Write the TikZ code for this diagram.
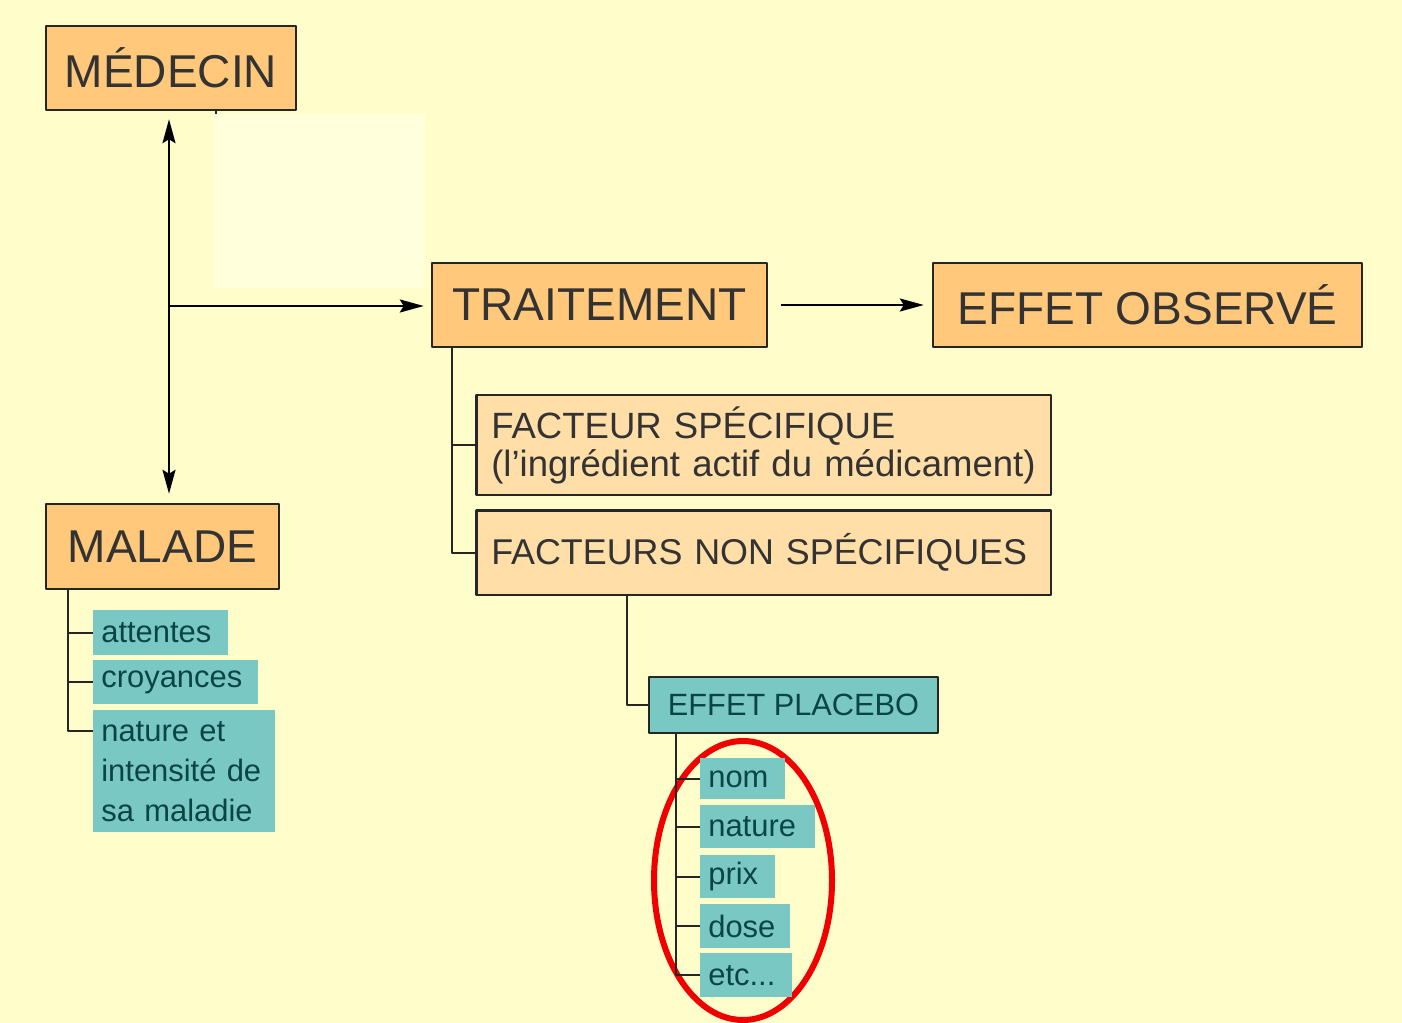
\documentclass[tikz,border=0pt]{standalone}
\usepackage{fontspec}
\setmainfont{Liberation Sans}
\usetikzlibrary{arrows.meta}
\definecolor{fondjaune}{rgb}{1,0.992,0.792}
\definecolor{fondclair}{rgb}{1,1,0.863}
\definecolor{orangevif}{rgb}{1,0.784,0.478}
\definecolor{orangepale}{rgb}{1,0.871,0.659}
\definecolor{turquoise}{rgb}{0.478,0.784,0.769}
\definecolor{grisfonce}{rgb}{0.2,0.2,0.2}
\definecolor{vertfonce}{rgb}{0.04,0.27,0.27}
\definecolor{rougevif}{rgb}{0.94,0,0}

\begin{document}
\begin{tikzpicture}[x=0.02cm,y=-0.02cm,line join=round,
	>={Stealth[length=0.48cm,width=0.26cm,inset=0.08cm]},
	boite/.style={draw=black!85,line width=0.05cm,fill=orangevif,text=grisfonce,inner sep=0pt,
		font=\fontsize{26.2}{30}\selectfont,minimum height=1.68cm},
	boitepale/.style={draw=black!85,line width=0.05cm,fill=orangepale,text=grisfonce,inner xsep=0.3cm,inner ysep=0pt,
		font=\fontsize{20.8}{21.6}\selectfont,align=left,text width=10.9cm,anchor=north west},
	vignette/.style={fill=turquoise,text=vertfonce,inner xsep=0.16cm,inner ysep=0pt,
		font=\fontsize{17.6}{22.8}\selectfont,align=left,anchor=north west},
	fleche/.style={line width=0.045cm,->},
	arbre/.style={line width=0.045cm,black!85}]
	% fond
	\fill[fondjaune] (0,0) rectangle (1402,1023);
	% cercle rouge autour des facteurs du placebo
	\draw[rougevif,line width=0.12cm] (743,880.5) ellipse [x radius=89,y radius=139.5];
	% boites principales
	\node[boite,minimum width=5cm] (medecin) at (171,68) {MÉDECIN};
	\node[boite,minimum width=6.7cm] (traitement) at (599.5,305) {TRAITEMENT};
	\node[boite,minimum width=8.58cm] (effet) at (1147.5,305) {EFFET OBSERVÉ};
	\node[boite,minimum width=4.66cm,minimum height=1.7cm] (malade) at (162.5,546.5) {MALADE};
	% facteurs
	\node[boitepale,minimum height=2cm] (specifique) at (475,394) {FACTEUR SPÉCIFIQUE\\(l’ingrédient actif du médicament)};
	\node[boitepale,minimum height=1.7cm,font=\fontsize{20.4}{21.6}\selectfont] (nonspec) at (475,509) {FACTEURS NON SPÉCIFIQUES};
	\node[draw=black!85,line width=0.05cm,fill=turquoise,text=vertfonce,inner sep=0pt,
		font=\fontsize{17.5}{20}\selectfont,minimum width=5.78cm,minimum height=1.12cm] (placebo) at (793.5,705) {EFFET PLACEBO};
	% ce qui depend du malade
	\node[vignette,text width=2.38cm,minimum height=0.9cm] (attentes) at (93,610) {attentes};
	\node[vignette,text width=2.98cm,minimum height=0.88cm] (croyances) at (93,660) {croyances};
	\node[vignette,text width=3.32cm,minimum height=2.44cm] (mnature) at (93,710) {nature et\\intensité de\\sa maladie};
	% ce qui depend du placebo
	\node[vignette,text width=1.38cm,minimum height=0.82cm] (pnom) at (700,758) {nom};
	\node[vignette,text width=1.98cm,minimum height=0.86cm] (pnature) at (700,805) {nature};
	\node[vignette,text width=1.18cm,minimum height=0.86cm] (pprix) at (700,855) {prix};
	\node[vignette,text width=1.48cm,minimum height=0.88cm] (pdose) at (700,904) {dose};
	\node[vignette,text width=1.52cm,minimum height=0.88cm] (petc) at (700,953) {etc...};
	% trait masque sous le medecin
	\draw[arbre] ([xshift=0.9cm]medecin.south) -- ++(0,20);
	\fill[fondclair] (213,114) rectangle (425,288);
	% fleches
	\coordinate (axe) at (169,306);
	\draw[fleche,<->,shorten <=0.16cm,shorten >=0.18cm] (medecin.south -| axe) -- (malade.north -| axe);
	\draw[fleche,shorten >=0.14cm] (axe) -- (axe -| traitement.west);
	\draw[fleche,shorten <=0.26cm,shorten >=0.16cm] (traitement.east) -- (effet.west);
	% arborescences
	\draw[arbre] ([xshift=0.42cm]traitement.south west) |- (specifique.west);
	\draw[arbre] ([xshift=0.42cm]traitement.south west) |- (nonspec.west);
	\draw[arbre] ([xshift=3.04cm]nonspec.south west) |- (placebo.west);
	\foreach \n in {attentes,croyances}
		\draw[arbre] ([xshift=0.46cm]malade.south west) |- (\n.west);
	\draw[arbre] ([xshift=0.46cm]malade.south west) |- ([yshift=-0.42cm]mnature.north west);
	\foreach \n in {pnom,pnature,pprix,pdose,petc}
		\draw[arbre] ([xshift=0.56cm]placebo.south west) |- (\n.west);
\end{tikzpicture}
\end{document}
